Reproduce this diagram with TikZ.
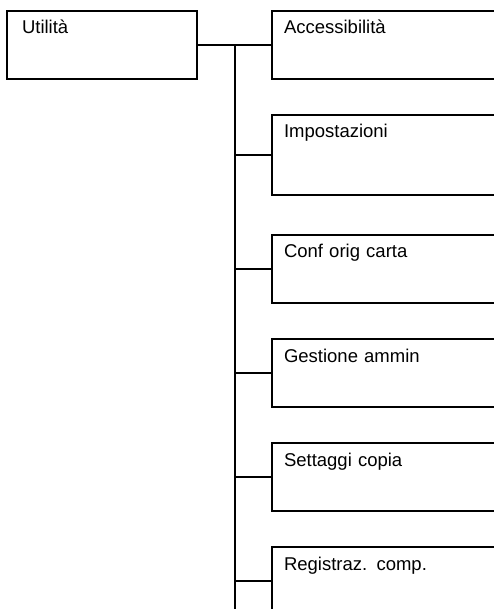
\documentclass[tikz,border=0pt]{standalone}
\usepackage{fontspec}
\setmainfont{Liberation Sans}
\usetikzlibrary{positioning}

\tikzset{
    menubox/.style = {draw, line width=2.2pt, anchor=north west, align=left, outer sep=0pt,
        inner xsep=12pt, inner ysep=8pt, text height=15pt, text depth=37pt,
        text width=264pt, font=\fontsize{18.5}{22}\selectfont},
    tallbox/.style = {text depth=49pt},
    link/.style = {line width=2.2pt}
}

\begin{document}
\begin{tikzpicture}[x=1pt, y=-1pt]
    \useasboundingbox (0,0) rectangle (494,609);
    \node [menubox, inner xsep=15pt, text width=160pt] (util) at (7,11) {Utilità};
    \node [menubox] (access) at (272,11) {Accessibilità};
    \node [menubox, tallbox, below=36pt of access.south west, anchor=north west] (setup) {Impostazioni};
    \node [menubox, below=40pt of setup.south west, anchor=north west] (paper) {Conf orig carta};
    \node [menubox, below=36pt of paper.south west, anchor=north west] (admin) {Gestione ammin};
    \node [menubox, below=36pt of admin.south west, anchor=north west] (copy) {Settaggi copia};
    \node [menubox, below=36pt of copy.south west, anchor=north west] (store) {Registraz. comp.};

    \coordinate (trunk) at (235,0);
    \coordinate (trunkend) at (235,609);
    \draw [link] (util.east) -- (access.west);
    \draw [link] (util.east -| trunk) -- (trunkend);
    \foreach \item in {setup, paper, admin, copy, store}
        \draw [link] (\item.west -| trunk) -- (\item.west);
\end{tikzpicture}
\end{document}
